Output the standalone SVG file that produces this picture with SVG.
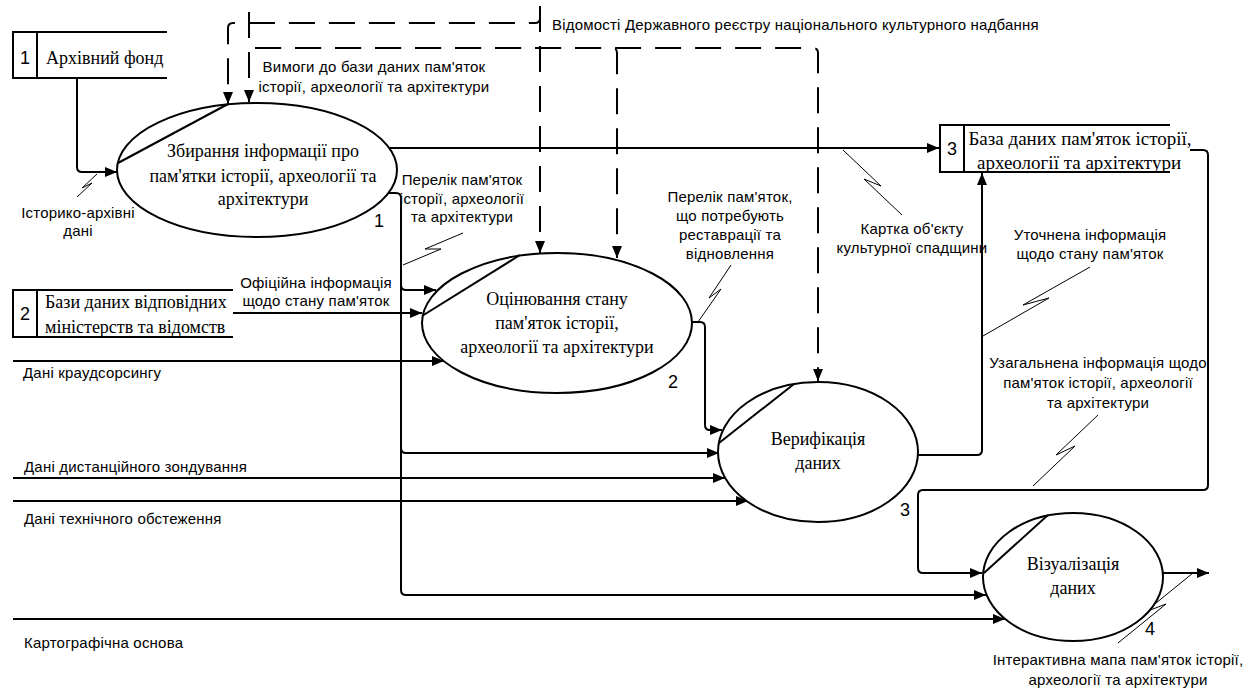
<svg xmlns="http://www.w3.org/2000/svg" width="1251" height="688" viewBox="0 0 1251 688">
<defs>
<marker id="arr" markerUnits="userSpaceOnUse" markerWidth="12" markerHeight="10" refX="12" refY="5" orient="auto"><path d="M0,0 L12,5 L0,10 z" fill="#000"/></marker>
<style>
.c{fill:none;stroke:#000;stroke-width:2;marker-end:url(#arr)}
.d{fill:none;stroke:#000;stroke-width:2;stroke-dasharray:26 14;marker-end:url(#arr)}
.s{fill:none;stroke:#000;stroke-width:1}
.el{fill:#fff;stroke:#000;stroke-width:2}
.ln{fill:none;stroke:#000;stroke-width:2}
.sf{font-family:"Liberation Serif","Times New Roman",serif;font-size:18px;fill:#000}
.ss{font-family:"Liberation Sans",Arial,sans-serif;font-size:15px;letter-spacing:0.2px;fill:#000}
.n{font-family:"Liberation Sans",Arial,sans-serif;font-size:18px;fill:#000}
.m{text-anchor:middle}
</style>
</defs>
<rect width="1251" height="688" fill="#fff"/>
<g id="connectors">
<path class="c" d="M77,78 V167 Q77,172 82,172 H117"/>
<path class="c" d="M385,148 H939"/>
<path class="c" d="M385,193 H396 Q401,193 401,198 V285 Q401,290 406,290 H436"/>
<path class="c" d="M401,198 V448 Q401,453 406,453 H719"/>
<path class="c" d="M401,198 V590 Q401,595 406,595 H986"/>
<path class="c" d="M233,313 H422"/>
<path class="c" d="M13,361 H444"/>
<path class="c" d="M688,322 H700 Q705,322 705,327 V425 Q705,430 710,430 H722"/>
<path class="c" d="M13,478 H725"/>
<path class="c" d="M13,501 H748"/>
<path class="c" d="M13,619 H1005"/>
<path class="c" d="M914,455 H977 Q982,455 982,450 V173"/>
<path class="c" d="M1190,150 H1203 Q1208,150 1208,155 V485 Q1208,490 1203,490 H923 Q918,490 918,495 V568 Q918,573 923,573 H982"/>
<path class="c" d="M1160,573 H1209"/>
<path class="d" d="M540,6 V18 Q540,23 535,23 H233 Q228,23 228,28 V104"/>
<path class="d" d="M540,6 V253"/>
<path class="d" d="M249,12 V102"/>
<path class="d" d="M249,12 V43 Q249,48 254,48 H612 Q617,48 617,53 V258"/>
<path class="d" d="M249,12 V43 Q249,48 254,48 H813 Q818,48 818,53 V381"/>
<path class="s" d="M77,197 L92,183 L82,188 L97,174"/>
<path class="s" d="M843,150 L881,186 L864,179 L902,215"/>
<path class="s" d="M983,336 L1049,298 L1023,305 L1090,267"/>
<path class="s" d="M1033,486 L1075,446 L1056,455 L1098,415"/>
<path class="s" d="M698,322 L721,289 L709,298 L731,265"/>
<path class="s" d="M403,265 L441,249 L425,249 L463,233"/>
<path class="s" d="M1118,643 L1166,604 L1145,612 L1193,573"/>
</g>
<g id="store1">
<path class="ln" d="M167,32 H13 V78 H167 M37,32 V78"/>
<text class="n m" x="25" y="64">1</text>
<text class="sf" x="46" y="64">Архівний фонд</text>
</g>
<g id="store2">
<path class="ln" d="M233,290 H13 V337 H233 M37,290 V337"/>
<text class="n m" x="25" y="320">2</text>
<text class="sf" x="45" y="308">Бази даних відповідних</text>
<text class="sf" x="45" y="333">міністерств та відомств</text>
</g>
<g id="store3">
<path class="ln" d="M1170,125 H940 V172 H1170 M964,125 V172"/>
<text class="n m" x="952" y="155">3</text>
<text class="sf m" x="1080" y="145" style="font-size:19px">База даних пам'яток історії,</text>
<text class="sf m" x="1079" y="169" style="font-size:19px">археології та архітектури</text>
</g>
<g id="process1">
<ellipse class="el" cx="257" cy="170" rx="140" ry="67"/>
<line class="ln" x1="118" y1="163" x2="228" y2="104"/>
<text class="sf m" x="263" y="157">Збирання інформації про</text>
<text class="sf m" x="263" y="182">пам'ятки історії, археології та</text>
<text class="sf m" x="263" y="205">архітектури</text>
<text class="n m" x="379" y="227">1</text>
</g>
<g id="process2">
<ellipse class="el" cx="557" cy="323" rx="135" ry="70"/>
<line class="ln" x1="422" y1="316" x2="520" y2="255"/>
<text class="sf m" x="557" y="305">Оцінювання стану</text>
<text class="sf m" x="557" y="329">пам'яток історії,</text>
<text class="sf m" x="557" y="353">археології та архітектури</text>
<text class="n m" x="673" y="388">2</text>
</g>
<g id="process3">
<ellipse class="el" cx="818" cy="452" rx="100" ry="70"/>
<line class="ln" x1="719" y1="443" x2="794" y2="384"/>
<text class="sf m" x="818" y="445">Верифікація</text>
<text class="sf m" x="818" y="469">даних</text>
<text class="n m" x="905" y="516">3</text>
</g>
<g id="process4">
<ellipse class="el" cx="1073" cy="577" rx="90" ry="64"/>
<line class="ln" x1="984" y1="573" x2="1048" y2="515"/>
<text class="sf m" x="1073" y="570">Візуалізація</text>
<text class="sf m" x="1073" y="594">даних</text>
<text class="n m" x="1150" y="635">4</text>
</g>
<g id="labels">
<text class="ss" x="552" y="30">Відомості Державного реєстру національного культурного надбання</text>
<text class="ss m" x="374" y="72">Вимоги до бази даних пам'яток</text>
<text class="ss m" x="374" y="92">історії, археології та архітектури</text>
<text class="ss m" x="78" y="218">Історико-архівні</text>
<text class="ss m" x="78" y="236">дані</text>
<text class="ss m" x="462" y="185">Перелік пам'яток</text>
<text class="ss m" x="462" y="204">історії, археології</text>
<text class="ss m" x="462" y="222">та архітектури</text>
<text class="ss m" x="730" y="202">Перелік пам'яток,</text>
<text class="ss m" x="730" y="221">що потребують</text>
<text class="ss m" x="730" y="240">реставрації та</text>
<text class="ss m" x="730" y="259">відновлення</text>
<text class="ss m" x="912" y="234">Картка об'єкту</text>
<text class="ss m" x="912" y="253">культурної спадщини</text>
<text class="ss m" x="1090" y="240">Уточнена інформація</text>
<text class="ss m" x="1090" y="259">щодо стану пам'яток</text>
<text class="ss m" x="316" y="288">Офіційна інформація</text>
<text class="ss m" x="316" y="306">щодо стану пам'яток</text>
<text class="ss" x="23" y="378">Дані краудсорсингу</text>
<text class="ss m" x="1098" y="368">Узагальнена інформація щодо</text>
<text class="ss m" x="1098" y="388">пам'яток історії, археології</text>
<text class="ss m" x="1098" y="408">та архітектури</text>
<text class="ss" x="24" y="472">Дані дистанційного зондування</text>
<text class="ss" x="24" y="524">Дані технічного обстеження</text>
<text class="ss" x="24" y="648">Картографічна основа</text>
<text class="ss m" x="1118" y="665">Інтерактивна мапа пам'яток історії,</text>
<text class="ss m" x="1118" y="685">археології та архітектури</text>
</g>
</svg>
